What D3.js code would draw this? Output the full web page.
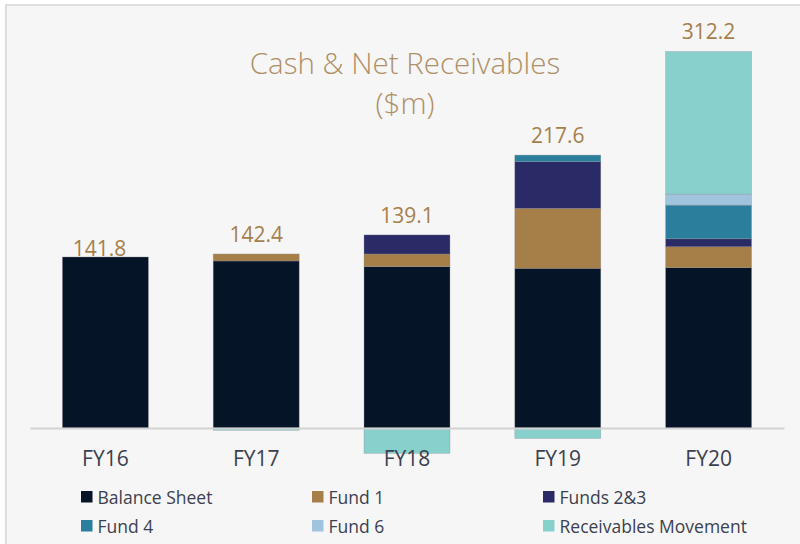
<!DOCTYPE html>
<html>
<head>
<meta charset="utf-8">
<script src="https://cdn.jsdelivr.net/npm/d3@7"></script>
<style>
  html, body { margin: 0; padding: 0; background: #ffffff; }
  svg { display: block; }
  text { font-family: "Open Sans", "Noto Sans", sans-serif; }
</style>
</head>
<body>
<svg id="chart" width="800" height="544"></svg>
<script>
// ---- data ----
const categories = ["FY16", "FY17", "FY18", "FY19", "FY20"];
const seriesNames = ["Balance Sheet", "Fund 1", "Funds 2&3", "Fund 4", "Fund 6", "Receivables Movement"];
const balanceSheet = [141.8, 138.5, 133.8, 132.4, 132.9];
const fund1 = [0, 5.8, 10.5, 49.7, 17.4];
const funds23 = [0, 0, 15.8, 38.7, 6.6];
const fund4 = [0, 0, 0, 5.5, 27.9];
const fund6 = [0, 0, 0, 0, 9.1];
const receivablesMovement = [0, -1.9, -21.0, -8.7, 118.3];
const totals = ["141.8", "142.4", "139.1", "217.6", "312.2"];
const titleLines = ["Cash & Net Receivables", "($m)"];

// ---- styles ----
const colors = ["#061428", "#a57e48", "#2a2a66", "#2b7f9c", "#a0c4de", "#87d0cb"];
const labelColor = "#a67f4c";
const titleColor = "#b08f66";

const seriesValues = [balanceSheet, fund1, funds23, fund4, fund6, receivablesMovement];
const table = categories.map((c, i) => {
  const row = { cat: c };
  seriesNames.forEach((s, k) => row[s] = seriesValues[k][i]);
  return row;
});

const svg = d3.select("#chart");

// panel
svg.append("rect")
  .attr("x", 6).attr("y", 5).attr("width", 820).attr("height", 560)
  .attr("fill", "#f6f6f6").attr("stroke", "#dedede").attr("stroke-width", 2);

const x = d3.scaleBand().domain(categories).range([30, 784]).paddingInner(0.43).paddingOuter(0.215);
const y = d3.scaleLinear().domain([0, 300]).range([428, 428 - 300 * 1.206]);

const stack = d3.stack().keys(seriesNames).offset(d3.stackOffsetDiverging);
const stacked = stack(table);

const g = svg.append("g");
g.selectAll("g.series").data(stacked).join("g")
  .attr("class", "series")
  .attr("fill", (d, i) => colors[i])
  .selectAll("rect").data(d => d.filter(p => p[1] - p[0] !== 0)).join("rect")
  .attr("x", d => x(d.data.cat))
  .attr("width", x.bandwidth())
  .attr("y", d => y(Math.max(d[0], d[1])))
  .attr("height", d => Math.abs(y(d[0]) - y(d[1])))
  .attr("stroke", "rgba(140,140,150,0.55)")
  .attr("stroke-width", 0.6);

// axis baseline
const xAxis = d3.axisBottom(x).tickSize(0).tickPadding(26);
const ax = svg.append("g").attr("transform", `translate(0,${y(0)})`).call(xAxis);
ax.select(".domain").attr("stroke", "#d2d2d2").attr("stroke-width", 2);
ax.selectAll("text").attr("font-size", 21).attr("fill", "#3b4150").attr("dy", "0.55em");

// total labels
const tops = table.map(r => d3.sum(seriesNames, s => Math.max(0, r[s])));
svg.append("g").selectAll("text").data(categories).join("text")
  .attr("x", (c, i) => x(c) + x.bandwidth() / 2 - (i === 0 ? 6 : 0))
  .attr("y", (c, i) => y(tops[i]) - (i === 0 ? 1 : 12))
  .attr("text-anchor", "middle")
  .attr("font-size", 21)
  .attr("fill", labelColor)
  .text((c, i) => totals[i]);

// title
svg.append("g").selectAll("text").data(titleLines).join("text")
  .attr("x", 405)
  .attr("y", (d, i) => 74 + i * 40)
  .attr("text-anchor", "middle")
  .attr("font-size", 29.5)
  .attr("font-weight", 300)
  .attr("fill", titleColor)
  .text(d => d);

// legend
const legendCols = [81, 312, 543];
const legend = svg.append("g").selectAll("g").data(seriesNames).join("g")
  .attr("transform", (d, i) => `translate(${legendCols[i % 3]},${491 + Math.floor(i / 3) * 29})`);
legend.append("rect").attr("width", 11.5).attr("height", 11.5).attr("fill", (d, i) => colors[i]);
legend.append("text").attr("x", 16.5).attr("y", 12.5)
  .attr("font-size", 17.5).attr("fill", "#3b4150").text(d => d);
</script>
</body>
</html>
